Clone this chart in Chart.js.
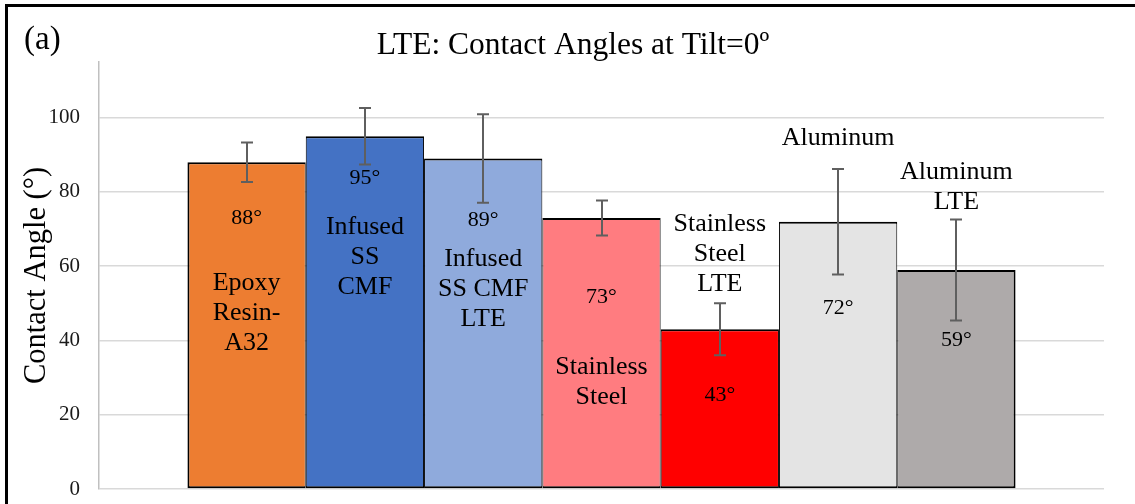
<!DOCTYPE html>
<html>
<head>
<meta charset="utf-8">
<title>LTE: Contact Angles at Tilt=0º</title>
<script src="https://cdn.jsdelivr.net/npm/chart.js@4.4.1/dist/chart.umd.min.js"></script>
<style>
  html, body { margin: 0; padding: 0; background: #fff; overflow: hidden; }
  #wrap { position: absolute; left: 0; top: 0; width: 1135px; height: 504px; }
  #frame { position: absolute; left: 5px; top: 4px; width: 1200px; height: 600px;
           border: 3px solid #000; pointer-events: none; }
  canvas { display: block; }
</style>
</head>
<body>
<div id="wrap"><canvas id="c" width="1135" height="504"></canvas></div>
<div id="frame"></div>
<script>
// Surface samples and their measured contact angles (degrees) with standard deviations
const categories = ['Epoxy Resin-A32', 'Infused SS CMF', 'Infused SS CMF LTE', 'Stainless Steel',
                    'Stainless Steel LTE', 'Aluminum', 'Aluminum LTE'];
const angles = [88, 95, 89, 73, 43, 72, 59];
const errors = [5.3, 7.6, 11.9, 4.7, 7.0, 14.2, 13.6];
const yTicks = [0, 20, 40, 60, 80, 100];

const barColors = ['#ED7D31', '#4472C4', '#8FAADC', '#FF7C80', '#FF0000', '#E4E4E4', '#AEAAAA'];

// Where each bar's text sits, in axis units: the angle label and the first line of the name
const labelLayout = [
  { valueAt: 72.8, nameAt: 55.3, lines: ['Epoxy', 'Resin-', 'A32'] },
  { valueAt: 83.8, nameAt: 70.5, lines: ['Infused', 'SS', 'CMF'] },
  { valueAt: 72.3, nameAt: 62.0, lines: ['Infused', 'SS CMF', 'LTE'] },
  { valueAt: 51.7, nameAt: 32.9, lines: ['Stainless', 'Steel'] },
  { valueAt: 25.2, nameAt: 71.4, lines: ['Stainless', 'Steel', 'LTE'] },
  { valueAt: 48.8, nameAt: 94.6, lines: ['Aluminum'] },
  { valueAt: 40.0, nameAt: 85.2, lines: ['Aluminum', 'LTE'] }
];

const SERIF = '"Liberation Serif", "Times New Roman", serif';

const datasets = categories.map((name, i) => ({
  label: name,
  data: [angles[i]],
  backgroundColor: barColors[i],
  borderColor: '#000',
  borderSkipped: false,
  borderWidth: { top: 2, bottom: 2, left: i === 0 ? 2 : 1, right: i === categories.length - 1 ? 2 : 1 }
}));

// Vertical error bars with caps
const errorBars = {
  id: 'errorBars',
  afterDatasetsDraw(chart) {
    const { ctx } = chart;
    const y = chart.scales.y;
    ctx.save();
    ctx.strokeStyle = '#5f5f5f';
    ctx.lineWidth = 2;
    chart.data.datasets.forEach((ds, i) => {
      const bar = chart.getDatasetMeta(i).data[0];
      const x = Math.round(bar.x);
      const top = y.getPixelForValue(angles[i] + errors[i]);
      const bot = y.getPixelForValue(angles[i] - errors[i]);
      ctx.beginPath();
      ctx.moveTo(x, top); ctx.lineTo(x, bot);
      ctx.moveTo(x - 6, top); ctx.lineTo(x + 6, top);
      ctx.moveTo(x - 6, bot); ctx.lineTo(x + 6, bot);
      ctx.stroke();
    });
    ctx.restore();
  }
};

// Angle values and sample names written on or above each bar
const barText = {
  id: 'barText',
  afterDraw(chart) {
    const { ctx } = chart;
    const y = chart.scales.y;
    ctx.save();
    ctx.fillStyle = '#000';
    ctx.textAlign = 'center';
    ctx.textBaseline = 'middle';
    chart.data.datasets.forEach((ds, i) => {
      const bar = chart.getDatasetMeta(i).data[0];
      const lay = labelLayout[i];
      ctx.font = '22px ' + SERIF;
      ctx.fillText(angles[i] + '°', bar.x, y.getPixelForValue(lay.valueAt));
      ctx.font = '26px ' + SERIF;
      const y0 = y.getPixelForValue(lay.nameAt);
      lay.lines.forEach((line, k) => ctx.fillText(line, bar.x, y0 + k * 30));
    });
    ctx.restore();
  }
};

// Chart heading and panel tag
const heading = {
  id: 'heading',
  afterDraw(chart) {
    const { ctx } = chart;
    ctx.save();
    ctx.fillStyle = '#000';
    ctx.textBaseline = 'alphabetic';
    ctx.font = '31.5px ' + SERIF;
    ctx.textAlign = 'center';
    ctx.fillText('LTE: Contact Angles at Tilt=0º', 573, 54);
    ctx.textAlign = 'left';
    ctx.font = '33px ' + SERIF;
    ctx.fillText('(a)', 24, 49);
    ctx.restore();
  }
};

new Chart(document.getElementById('c'), {
  type: 'bar',
  data: { labels: [''], datasets },
  plugins: [errorBars, barText, heading],
  options: {
    responsive: false,
    animation: false,
    devicePixelRatio: 1,
    layout: { padding: { left: 0, right: 31, top: 62, bottom: 15 } },
    datasets: { bar: { categoryPercentage: 0.824, barPercentage: 1 } },
    plugins: { legend: { display: false }, tooltip: { enabled: false }, title: { display: false } },
    scales: {
      x: {
        display: true,
        grid: { display: false, drawTicks: false },
        border: { display: false },
        ticks: { display: false },
        afterFit(scale) { scale.height = 0; }
      },
      y: {
        min: 0,
        max: 115,
        afterBuildTicks(scale) { scale.ticks = yTicks.map(v => ({ value: v })); },
        afterFit(scale) {
          scale.width = 99;
          scale.paddingTop = 0;
          scale.paddingBottom = 0;
        },
        grid: { color: '#d9d9d9', lineWidth: 1.5, drawTicks: false },
        border: { color: '#c0c0c0', width: 1.5 },
        ticks: { padding: 19, color: '#1a1a1a', font: { family: SERIF, size: 21 } },
        title: {
          display: true,
          text: 'Contact Angle (°)',
          color: '#000',
          font: { family: SERIF, size: 30.5 },
          padding: { top: 19, bottom: 0 }
        }
      }
    }
  }
});
</script>
</body>
</html>
